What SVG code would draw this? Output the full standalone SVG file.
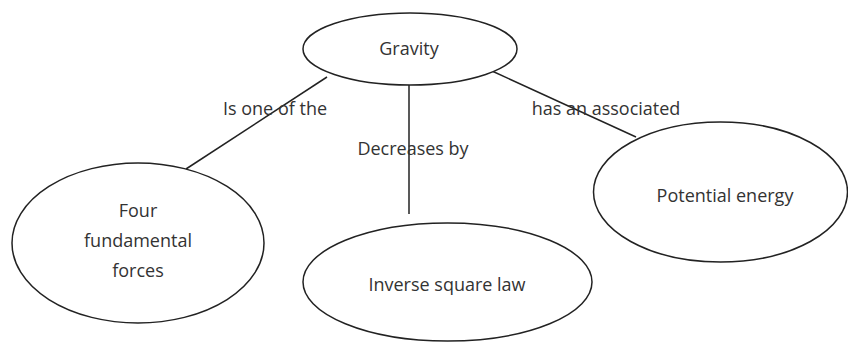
<svg xmlns="http://www.w3.org/2000/svg" width="848" height="342" viewBox="0 0 848 342">
<style>
.n ellipse{fill:#fff;stroke:#222;stroke-width:1.5}
text{font-family:"Open Sans","Noto Sans",sans-serif;font-size:18px;fill:#333;text-anchor:middle}
.c line{stroke:#222;stroke-width:1.5}
</style>
<rect width="848" height="342" fill="#fff"/>
<g class="c" id="connectors">
<line x1="327" y1="77" x2="186" y2="169"/>
<line x1="409" y1="85" x2="409" y2="214"/>
<line x1="492" y1="71" x2="636" y2="137"/>
<text x="275" y="115">Is one of the</text>
<text x="413" y="155">Decreases by</text>
<text x="606" y="115">has an associated</text>
</g>
<g class="n" id="gravity">
<ellipse cx="410" cy="49" rx="107" ry="36"/>
<text x="409" y="55">Gravity</text>
</g>
<g class="n" id="four">
<ellipse cx="138" cy="243" rx="126" ry="80"/>
<text x="138" y="217">Four</text>
<text x="138" y="247">fundamental</text>
<text x="138" y="277">forces</text>
</g>
<g class="n" id="inverse">
<ellipse cx="447.5" cy="282" rx="144.5" ry="59"/>
<text x="447" y="291">Inverse square law</text>
</g>
<g class="n" id="potential">
<ellipse cx="720.5" cy="192" rx="127" ry="70"/>
<text x="725" y="202">Potential energy</text>
</g>
</svg>
